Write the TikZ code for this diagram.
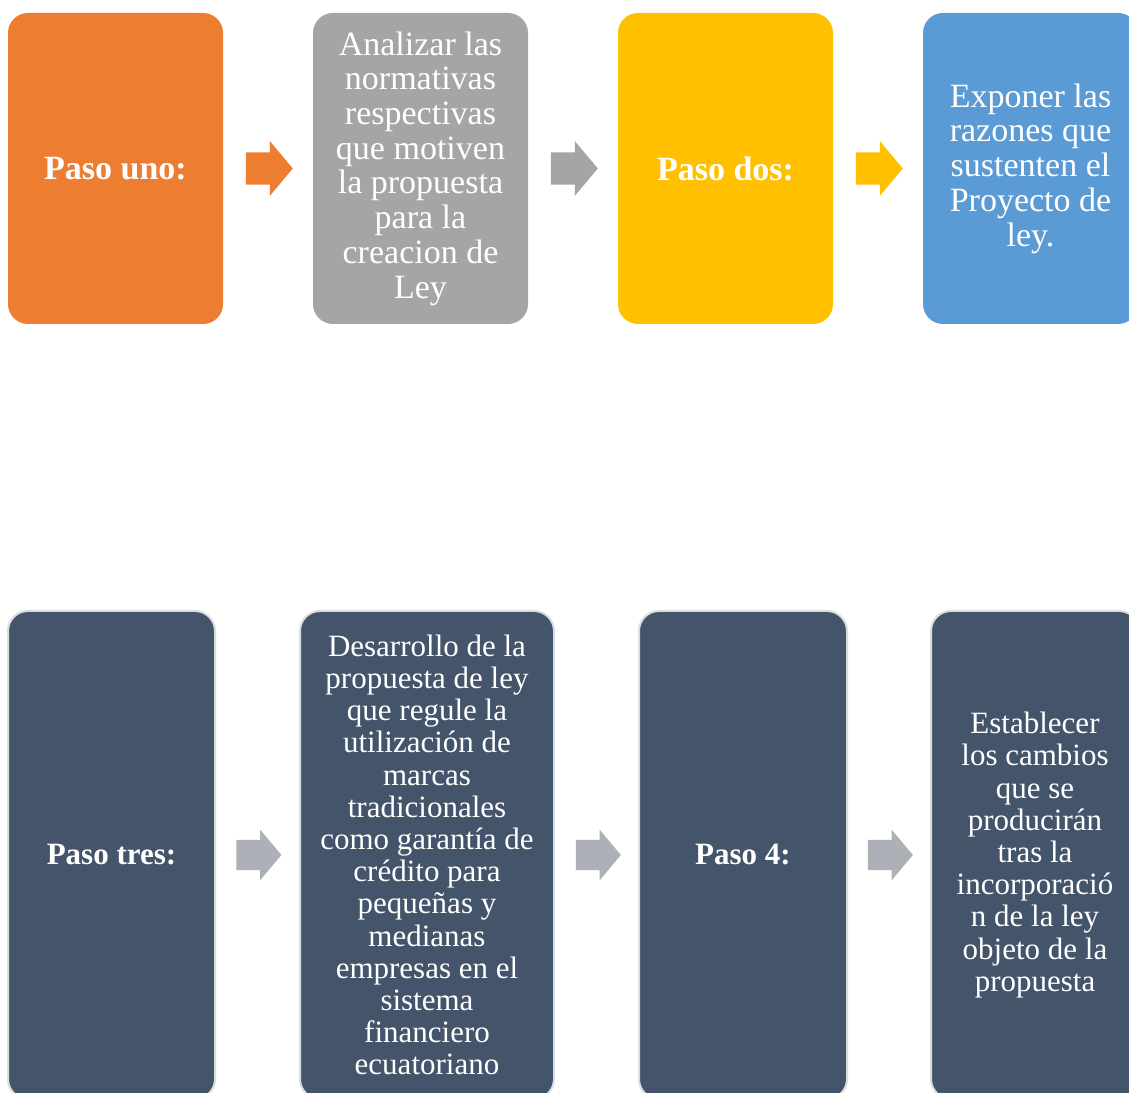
\documentclass[tikz,border=0pt]{standalone}
\usepackage{fontspec}
\setmainfont{Liberation Serif}
\usetikzlibrary{shapes.arrows,calc}
\definecolor{cOrange}{HTML}{ED7D31}
\definecolor{cGray}{HTML}{A5A5A5}
\definecolor{cGold}{HTML}{FFC000}
\definecolor{cBlue}{HTML}{5B9BD5}
\definecolor{cSlate}{HTML}{44546A}
\definecolor{cEdge}{HTML}{DADCDF}
\definecolor{cLtArrow}{HTML}{ADB0B7}
\tikzset{
  topbox/.style={rectangle, rounded corners=20pt, inner sep=2pt, text=white,
    minimum width=215pt, minimum height=311pt, align=center,
    font=\fontsize{34}{34.7}\selectfont},
  botbox/.style={rectangle, rounded corners=20pt, inner sep=2pt, text=white,
    fill=cSlate, draw=cEdge, line width=2pt, minimum height=488pt, align=center,
    font=\fontsize{31}{32.2}\selectfont},
  toparrow/.style={single arrow, single arrow head extend=11pt, single arrow tip angle=100,
    minimum height=47pt, minimum width=54pt, inner xsep=0pt, inner ysep=16pt, draw=none},
  botarrow/.style={single arrow, single arrow head extend=10pt, single arrow tip angle=100,
    minimum height=45pt, minimum width=50pt, inner xsep=0pt, inner ysep=15pt, draw=none, fill=cLtArrow},
}
\begin{document}
\begin{tikzpicture}[x=1pt,y=1pt]
\useasboundingbox (0,0) rectangle (1129,1092);
\clip (0,0) rectangle (1129,1092);
\fill[white] (0,0) rectangle (1129,1092);
% top row
\node[topbox, fill=cOrange] (b1) at (115.5,923.5) {\textbf{Paso uno:}};
\node[topbox, fill=cGray] (b2) at (420.5,923.5) {Analizar las\\normativas\\respectivas\\que motiven\\la propuesta\\para la\\creacion de\\Ley};
\node[topbox, fill=cGold] (b3) at (725.5,923.5) {\textbf{Paso dos:}};
\node[topbox, fill=cBlue] (b4) at (1030.5,923.5) {Exponer las\\razones que\\sustenten el\\Proyecto de\\ley.};
\node[toparrow, fill=cOrange] (a1) at ($(b1.east)!0.5!(b2.west)+(-5.5,0)$) {};
\node[toparrow, fill=cGray] (a2) at ($(b2.east)!0.5!(b3.west)+(-5.5,0)$) {};
\node[toparrow, fill=cGold] (a3) at ($(b3.east)!0.5!(b4.west)+(-5.5,0)$) {};
% bottom row
\node[botbox, minimum width=207pt] (b5) at (111.5,237) {\textbf{Paso tres:}};
\node[botbox, minimum width=254pt] (b6) at (427,237) {Desarrollo de la\\propuesta de ley\\que regule la\\utilización de\\marcas\\tradicionales\\como garantía de\\crédito para\\pequeñas y\\medianas\\empresas en el\\sistema\\financiero\\ecuatoriano};
\node[botbox, minimum width=208pt] (b7) at (743,237) {\textbf{Paso 4:}};
\node[botbox, minimum width=208pt] (b8) at (1035,237) {Establecer\\los cambios\\que se\\producirán\\tras la\\incorporació\\n de la ley\\objeto de la\\propuesta};
\node[botarrow] (a4) at ($(b5.east)!0.5!(b6.west)+(-5,0)$) {};
\node[botarrow] (a5) at ($(b6.east)!0.5!(b7.west)+(-4.5,0)$) {};
\node[botarrow] (a6) at ($(b7.east)!0.5!(b8.west)+(-5,0)$) {};
\end{tikzpicture}
\end{document}
